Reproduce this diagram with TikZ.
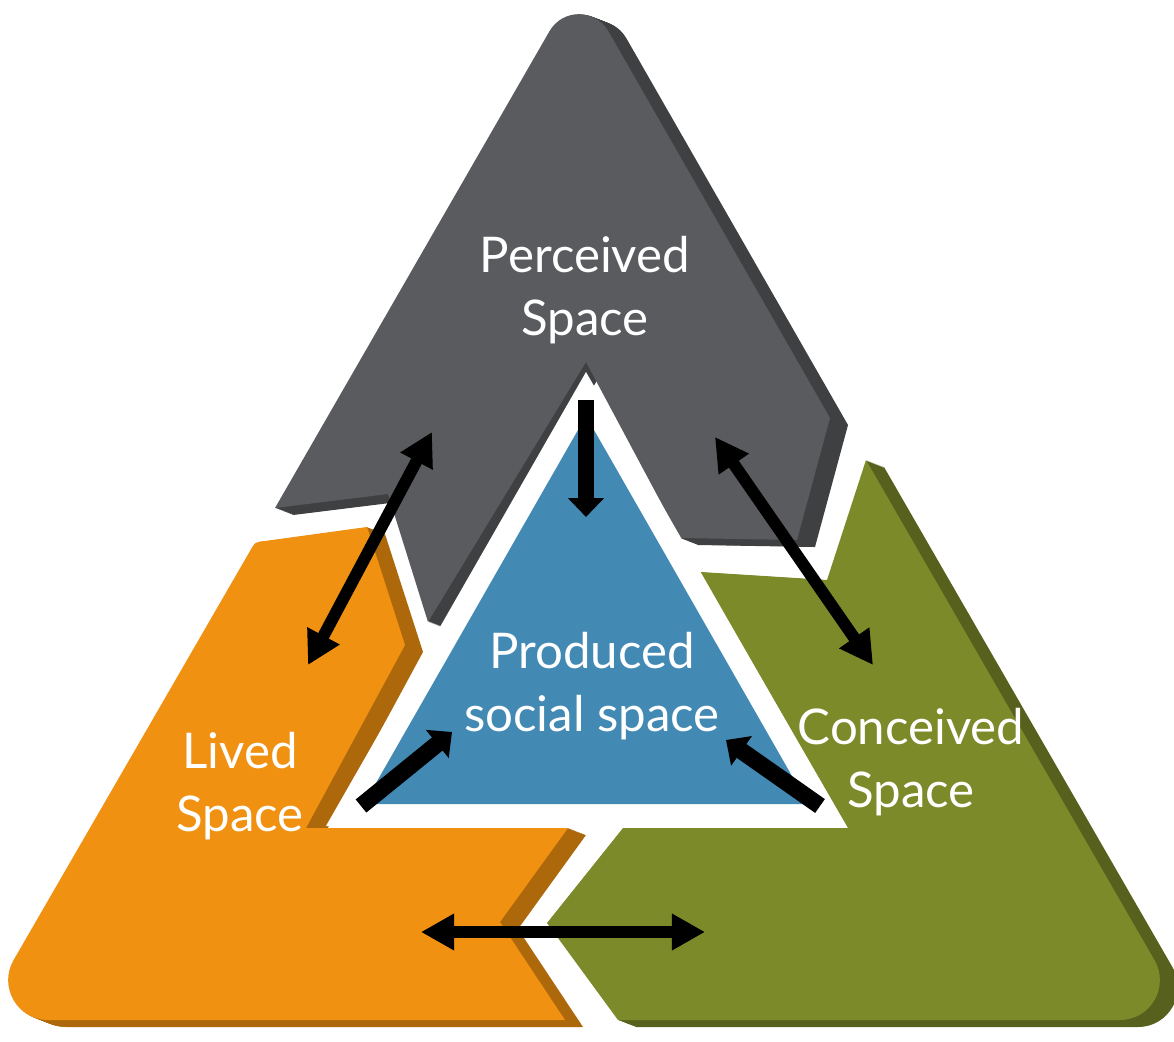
\documentclass[tikz,border=0pt]{standalone}
\usepackage{fontspec}
\setmainfont{Lato}
\usepackage{xcolor}
\usepackage{tikz}
\usetikzlibrary{arrows.meta,positioning}
\definecolor{colorPER}{RGB}{90,91,94}
\definecolor{colorLIV}{RGB}{240,145,17}
\definecolor{colorCON}{RGB}{125,138,41}
\definecolor{colorPRO}{RGB}{66,137,180}
\colorlet{colorPERsh}{colorPER!70!black}
\colorlet{colorLIVsh}{colorLIV!72!black}
\colorlet{colorCONsh}{colorCON!70!black}
\tikzset{
   link/.style={{Triangle[length=9.4pt,width=9.8pt]}-{Triangle[length=9.4pt,width=9.8pt]},draw=black,line width=3.4pt},
   flow/.style={-{Triangle[length=5.4pt,width=10pt]},draw=black,line width=4.8pt},
   spacetxt/.style={text=white,align=center,font=\fontsize{14}{18}\selectfont},
   perceived/.style={insert path={(275,508) -- (549.5,31.2) .. controls (562.6,8.5) and (595.2,8.5) .. (608.3,31.2)
      -- (830,418) -- (797,540) -- (680,538) -- (586,362) -- (428,622) -- (388,494) -- cycle}},
   lived/.style={insert path={(250,551) .. controls (255,542) .. (265,541) -- (367,527)
      -- (405,645) -- (306,828) -- (568,828) -- (500,922) -- (565,1020)
      -- (48,1020) .. controls (17.4,1020) and (-1.8,986.8) .. (13.5,960.2) -- cycle}},
   conceived/.style={insert path={(700,572) -- (827,580) -- (866,460)
      -- (1154.5,960.2) .. controls (1169.8,986.8) and (1150.6,1020) .. (1120,1020) -- (618,1020)
      -- (547,923) -- (623,828) -- (848,828) -- cycle}},
}

\begin{document}
\begin{tikzpicture}[x=0.1mm,y=-0.1mm]

\useasboundingbox (0,0) rectangle (1174,1042);

% =========================================================
% shadows (extruded)
% =========================================================

\foreach \s in {1,...,18} {
   \fill[colorPERsh,shift={(\s,0.39*\s)},perceived];
   \fill[colorLIVsh,shift={(\s,0.39*\s)},lived];
   \fill[colorCONsh,shift={(\s,0.39*\s)},conceived];
}

% =========================================================
% faces
% =========================================================

\fill[colorPER,perceived];
\fill[colorLIV,lived];
\fill[colorCON,conceived];

% white border and produced space
\fill[white] (586,372) -- (326,826) -- (846,826) -- cycle;
\fill[colorPRO] (586,416) -- (364,804) -- (808,804) -- cycle;

% =========================================================
% labels
% =========================================================

\node[spacetxt] (per) at (585,290) {Perceived\\Space};
\node[spacetxt] (pro) at (592,686) {Produced\\social space};
\node[spacetxt] (liv) at (240,786) {Lived\\Space};
\node[spacetxt] (con) at (911,762) {Conceived\\Space};

% =========================================================
% arrows
% =========================================================

\coordinate (perA) at (432,432);
\coordinate (livA) at (308,665);
\coordinate (perB) at (715,437);
\coordinate (conB) at (873,665);
\coordinate (livC) at (421,932);
\coordinate (conC) at (705,932);
\coordinate (perD) at (586,400);
\coordinate (proD) at (586,517);
\coordinate (livE) at (361,806);
\coordinate (proE) at (452,732);
\coordinate (conF) at (820,806);
\coordinate (proF) at (726,740);

\draw[link] (perA) -- (livA);
\draw[link] (perB) -- (conB);
\draw[link] (livC) -- (conC);
\draw[flow] (perD) -- (proD);
\draw[flow] (livE) -- (proE);
\draw[flow] (conF) -- (proF);

\end{tikzpicture}
\end{document}
